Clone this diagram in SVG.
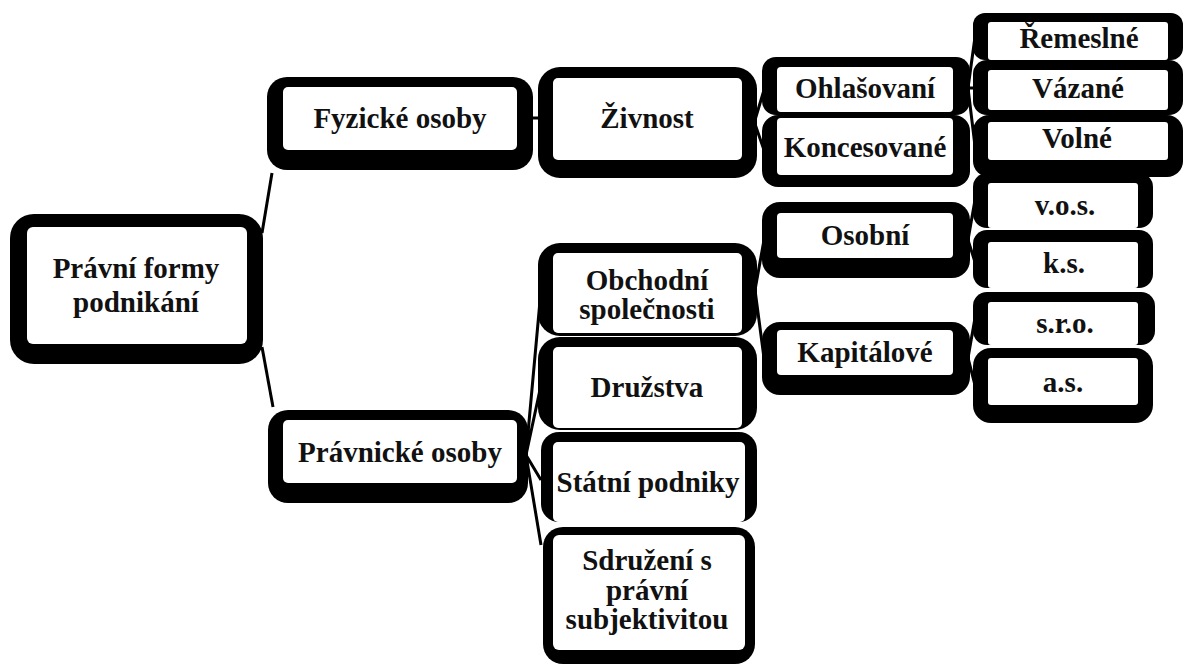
<svg xmlns="http://www.w3.org/2000/svg" width="1184" height="664" viewBox="0 0 1184 664">
<style>
.o{fill:#000}
.i{fill:#fff}
.t{font-family:"Liberation Serif","Times New Roman",serif;font-weight:bold;font-size:29px;fill:#111;text-anchor:middle}
.c{stroke:#000;stroke-width:3;fill:none}
</style>
<rect width="1184" height="664" fill="#fff"/>
<g id="connectors">
<path class="c" d="M262,233 L272,173"/>
<path class="c" d="M262,347 L273,407"/>
<path class="c" d="M531,118 L540,118"/>
<path class="c" d="M755,120 L764,90 M755,124 L764,150"/>
<path class="c" d="M526,455 L541,290 M526,455 L541,385 M526,455 L541,480 M526,455 L541,545"/>
<path class="c" d="M755,290 L764,240 M755,290 L764,358"/>
<path class="c" d="M968,88 L975,37 M968,88 L975,88 M968,88 L975,146"/>
<path class="c" d="M968,240 L975,200 M968,240 L975,262"/>
<path class="c" d="M968,358 L975,318 M968,358 L975,385"/>
</g>
<g id="root">
<rect class="o" x="10" y="214" width="253" height="150" rx="24"/>
<rect class="i" x="27" y="227" width="220" height="117" rx="6"/>
<text class="t" x="136" y="278">Právní formy</text>
<text class="t" x="136" y="312">podnikání</text>
</g>
<g id="fyzicke">
<rect class="o" x="267" y="77" width="266" height="93" rx="20"/>
<rect class="i" x="283" y="87" width="234" height="63" rx="5"/>
<text class="t" x="400" y="128">Fyzické osoby</text>
</g>
<g id="pravnicke">
<rect class="o" x="268" y="410" width="260" height="93" rx="20"/>
<rect class="i" x="283" y="420" width="234" height="63" rx="5"/>
<text class="t" x="400" y="462">Právnické osoby</text>
</g>
<g id="zivnost">
<rect class="o" x="538" y="67" width="219" height="111" rx="22"/>
<rect class="i" x="553" y="78" width="189" height="82" rx="5"/>
<text class="t" x="647" y="128">Živnost</text>
</g>
<g id="obchodni">
<rect class="o" x="538" y="243" width="219" height="93" rx="22"/>
<rect class="i" x="553" y="253" width="189" height="80" rx="5"/>
<text class="t" x="647" y="290">Obchodní</text>
<text class="t" x="647" y="319">společnosti</text>
</g>
<g id="druzstva">
<rect class="o" x="538" y="337" width="219" height="93" rx="22"/>
<rect class="i" x="553" y="347" width="189" height="81" rx="5"/>
<text class="t" x="647" y="397">Družstva</text>
</g>
<g id="statni">
<rect class="o" x="541" y="432" width="216" height="90" rx="18"/>
<rect class="i" x="553" y="442" width="192" height="80" rx="5"/>
<text class="t" x="648" y="492">Státní podniky</text>
</g>
<g id="sdruzeni">
<rect class="o" x="543" y="527" width="212" height="137" rx="20"/>
<rect class="i" x="553" y="535" width="192" height="115" rx="6"/>
<text class="t" x="647" y="570">Sdružení s</text>
<text class="t" x="647" y="600">právní</text>
<text class="t" x="647" y="629">subjektivitou</text>
</g>
<g id="ohlasovani">
<rect class="o" x="762" y="57" width="208" height="58" rx="14"/>
<rect class="i" x="777" y="67" width="176" height="45" rx="4"/>
<text class="t" x="865" y="98">Ohlašovaní</text>
</g>
<g id="koncesovane">
<rect class="o" x="762" y="115" width="208" height="72" rx="16"/>
<rect class="i" x="777" y="118" width="176" height="57" rx="4"/>
<text class="t" x="865" y="157">Koncesované</text>
</g>
<g id="remeslne">
<rect class="o" x="973" y="13" width="210" height="47" rx="12"/>
<rect class="i" x="988" y="22" width="180" height="38" rx="3"/>
<text class="t" x="1079" y="48">Řemeslné</text>
</g>
<g id="vazane">
<rect class="o" x="973" y="60" width="210" height="55" rx="14"/>
<rect class="i" x="988" y="70" width="180" height="40" rx="3"/>
<text class="t" x="1078" y="98">Vázané</text>
</g>
<g id="volne">
<rect class="o" x="973" y="115" width="210" height="62" rx="16"/>
<rect class="i" x="988" y="122" width="180" height="38" rx="3"/>
<text class="t" x="1077" y="148">Volné</text>
</g>
<g id="osobni">
<rect class="o" x="762" y="202" width="208" height="76" rx="18"/>
<rect class="i" x="777" y="213" width="176" height="45" rx="4"/>
<text class="t" x="865" y="245">Osobní</text>
</g>
<g id="kapitalove">
<rect class="o" x="762" y="322" width="208" height="73" rx="18"/>
<rect class="i" x="777" y="330" width="176" height="45" rx="4"/>
<text class="t" x="865" y="362">Kapitálové</text>
</g>
<g id="vos">
<rect class="o" x="973" y="173" width="180" height="55" rx="14"/>
<rect class="i" x="988" y="183" width="150" height="45" rx="3"/>
<text class="t" x="1065" y="215">v.o.s.</text>
</g>
<g id="ks">
<rect class="o" x="973" y="230" width="180" height="58" rx="14"/>
<rect class="i" x="988" y="242" width="150" height="46" rx="3"/>
<text class="t" x="1064" y="273">k.s.</text>
</g>
<g id="sro">
<rect class="o" x="973" y="292" width="182" height="53" rx="14"/>
<rect class="i" x="988" y="302" width="150" height="43" rx="3"/>
<text class="t" x="1065" y="333">s.r.o.</text>
</g>
<g id="as">
<rect class="o" x="973" y="348" width="180" height="75" rx="18"/>
<rect class="i" x="988" y="358" width="150" height="47" rx="3"/>
<text class="t" x="1063" y="392">a.s.</text>
</g>
</svg>
